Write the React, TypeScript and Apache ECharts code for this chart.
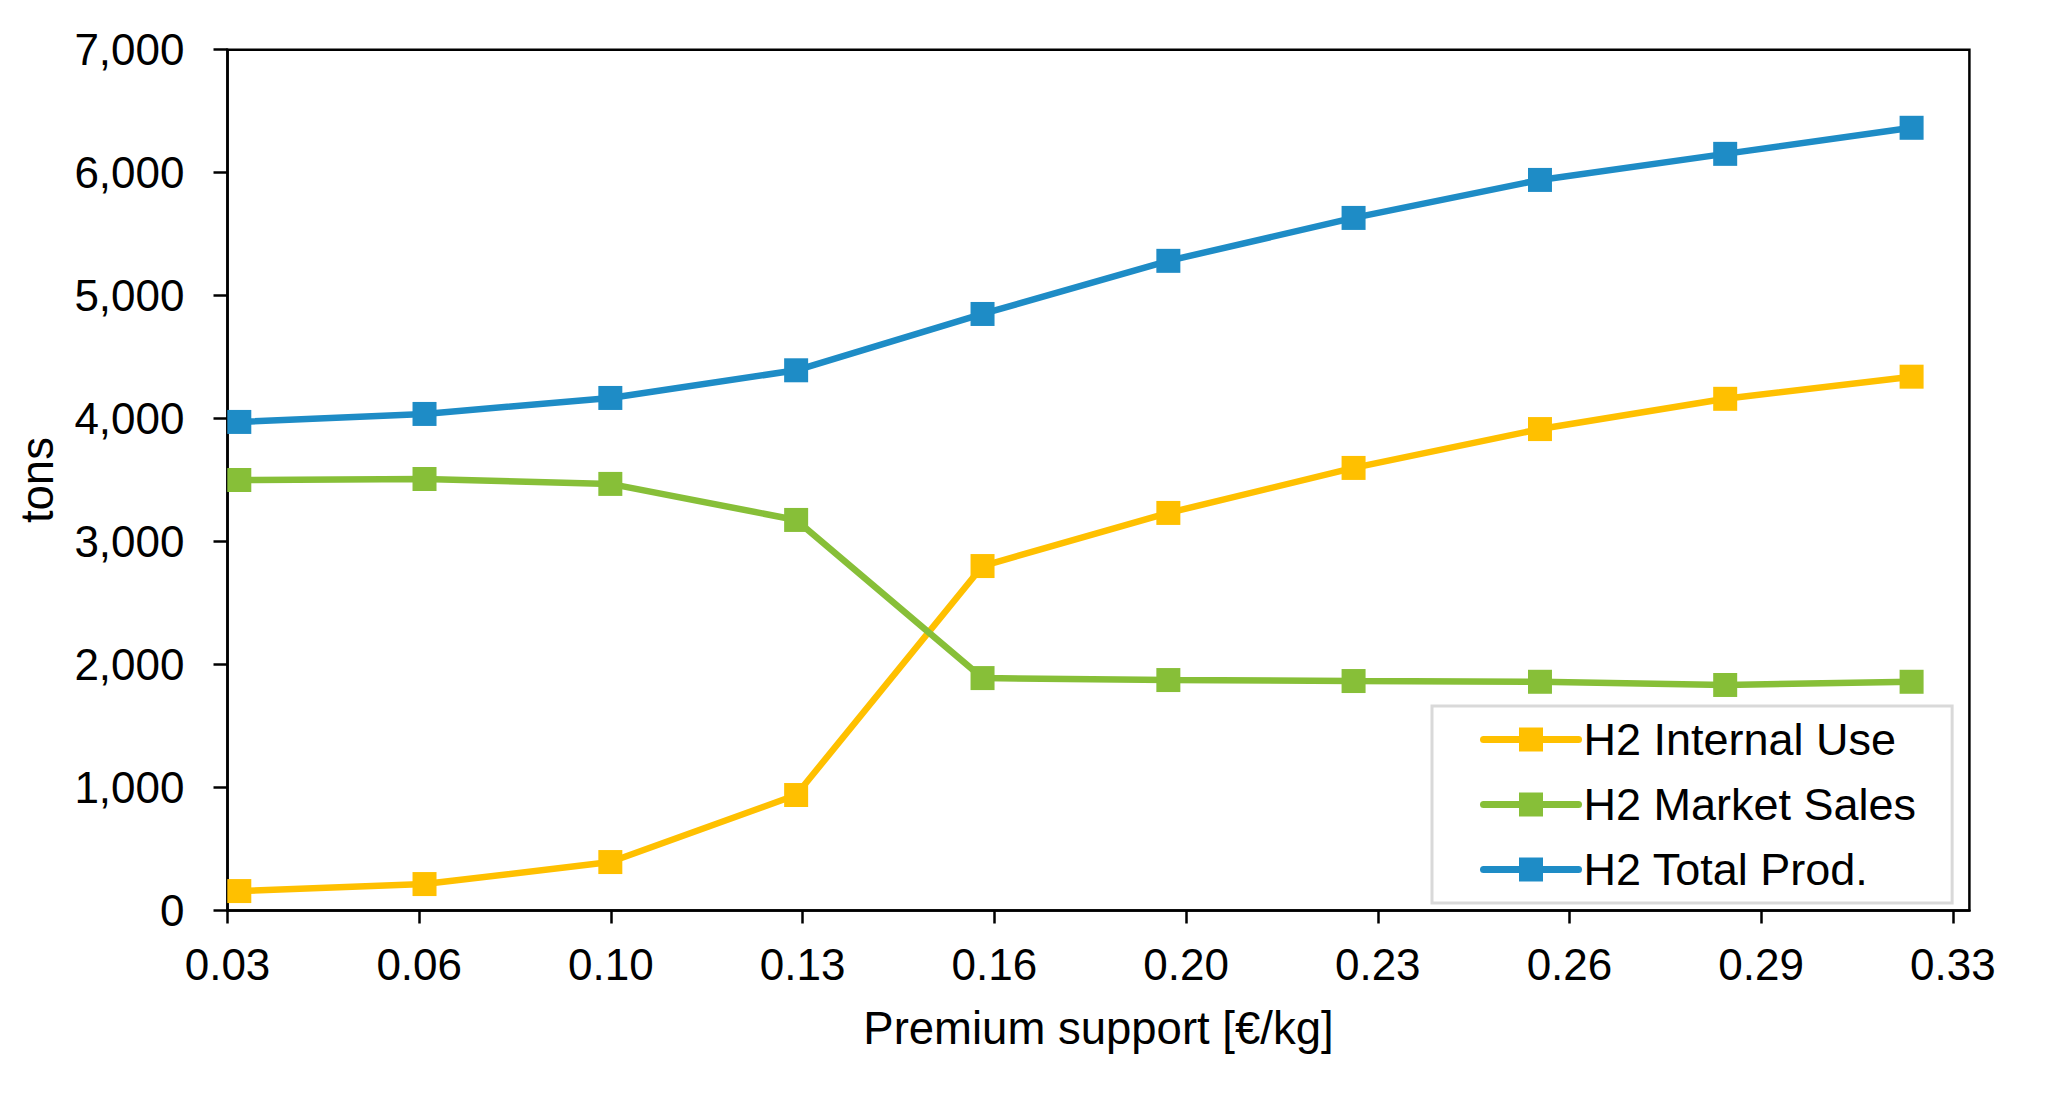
import React, { useEffect, useRef } from "react";
import * as echarts from "echarts";

const xValues = [0.0345, 0.0659, 0.0974, 0.1289, 0.1605, 0.192, 0.2234, 0.255, 0.2864, 0.318];
const internalUse = [158, 215, 394, 939, 2801, 3233, 3599, 3915, 4161, 4341];
const marketSales = [3501, 3509, 3469, 3176, 1890, 1874, 1866, 1860, 1834, 1860];
const totalProd = [3973, 4038, 4168, 4393, 4851, 5283, 5632, 5941, 6153, 6365];
const xTickLabels = ["0.03", "0.06", "0.10", "0.13", "0.16", "0.20", "0.23", "0.26", "0.29", "0.33"];
const seriesNames = ["H2 Internal Use", "H2 Market Sales", "H2 Total Prod."];
const seriesColors = ["#FFC000", "#87BF38", "#1E8CC6"];

const xStep = 0.0325;
const xMin = 0.0325;
const xMax = 0.3278;

const FONT = "'Liberation Sans', Arial, sans-serif";

export default function App() {
  const ref = useRef<HTMLDivElement>(null);
  useEffect(() => {
    if (!ref.current) return;
    const chart = echarts.init(ref.current, undefined, { renderer: "svg" });
    const seriesData = [internalUse, marketSales, totalProd];
    chart.setOption({
      animation: false,
      backgroundColor: "#ffffff",
      textStyle: { fontFamily: FONT },
      grid: {
        left: 227.5,
        right: 78.6,
        top: 49.7,
        bottom: 184.5,
        show: true,
        borderColor: "#000",
        borderWidth: 2.5,
        backgroundColor: "transparent",
      },
      legend: {
        show: true,
        orient: "vertical",
        left: 1432,
        top: 706,
        padding: [11, 36, 11, 48],
        itemWidth: 95,
        itemHeight: 30,
        itemGap: 20,
        backgroundColor: "#fff",
        borderColor: "#d9d9d9",
        borderWidth: 3,
        borderRadius: 0,
        textStyle: { fontSize: 45, lineHeight: 44, color: "#000", fontFamily: FONT },
        lineStyle: { width: 7, cap: "round" },
        data: seriesNames,
      },
      xAxis: {
        type: "value",
        min: xMin,
        max: xMax,
        interval: xStep,
        name: "Premium support [€/kg]",
        nameLocation: "middle",
        nameGap: 96,
        nameTextStyle: { fontSize: 45.5, lineHeight: 44, color: "#000", fontFamily: FONT },
        axisLine: { show: true, lineStyle: { color: "#000", width: 2.5 } },
        axisTick: { show: true, length: 13, lineStyle: { color: "#000", width: 2.5 } },
        splitLine: { show: false },
        axisLabel: {
          fontSize: 44,
          lineHeight: 44,
          color: "#000",
          margin: 32,
          fontFamily: FONT,
          showMaxLabel: false,
          formatter: (v: number) => {
            const k = v / xStep;
            const r = Math.round(k);
            if (Math.abs(k - r) > 0.01) return "";
            return xTickLabels[r - 1] ?? "";
          },
        },
      },
      yAxis: {
        type: "value",
        min: 0,
        max: 7000,
        interval: 1000,
        name: "tons",
        nameLocation: "middle",
        nameGap: 168,
        nameTextStyle: { fontSize: 45.5, lineHeight: 44, color: "#000", fontFamily: FONT },
        axisLine: { show: true, lineStyle: { color: "#000", width: 2.5 } },
        axisTick: { show: true, length: 14, lineStyle: { color: "#000", width: 2.5 } },
        splitLine: { show: false },
        axisLabel: {
          fontSize: 44,
          color: "#000",
          margin: 43,
          fontFamily: FONT,
          formatter: (v: number) => v.toLocaleString("en-US"),
        },
      },
      series: seriesNames.map((name, i) => ({
        name,
        type: "line",
        data: xValues.map((x, j) => [x, seriesData[i][j]]),
        symbol: "rect",
        symbolSize: 24,
        showAllSymbol: true,
        clip: false,
        lineStyle: { color: seriesColors[i], width: 6.5 },
        itemStyle: { color: seriesColors[i] },
        color: seriesColors[i],
      })),
    });
    return () => chart.dispose();
  }, []);
  return (
    <div
      ref={ref}
      style={{ position: "fixed", left: 0, top: 0, width: 2048, height: 1095, background: "#fff" }}
    />
  );
}
